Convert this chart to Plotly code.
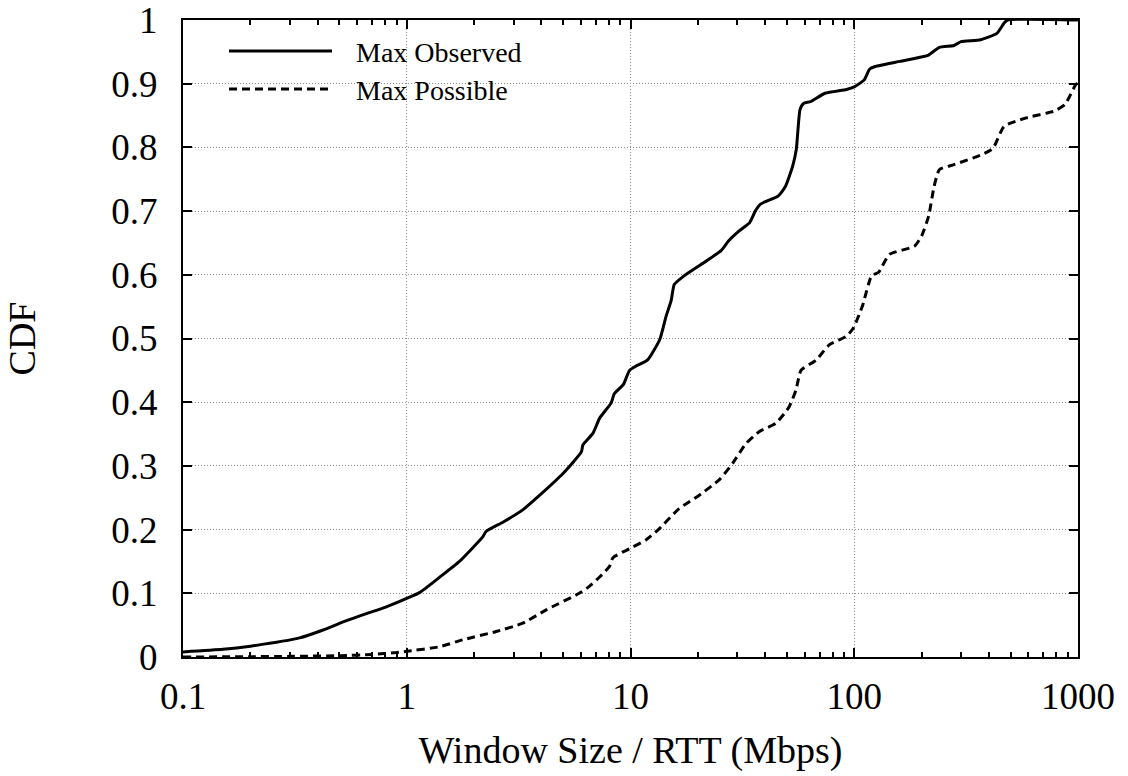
import plotly.graph_objects as go

# ---- data ----
obs_x = [0.1, 0.151, 0.2, 0.332, 0.42, 0.538, 0.66, 0.8, 1.0, 1.14, 1.4, 1.72, 2.19, 2.26, 2.7,
         3.3, 3.93, 4.99, 6.03, 6.13, 6.79, 7.28, 8.2, 8.45, 9.3, 9.9, 10.6, 11.9, 13.5, 14.4,
         15.2, 15.7, 17.3, 21.9, 25.4, 27.4, 30.6, 34.1, 36.1, 38.1, 45.8, 49.3, 53.1, 55.1,
         57.2, 59.3, 63.8, 74, 92.3, 100, 110.8, 117.2, 124, 160, 200, 215, 240, 279, 300,
         367, 434, 467, 484, 1000]
obs_y = [0.008, 0.012, 0.017, 0.030, 0.042, 0.057, 0.068, 0.078, 0.092, 0.101, 0.125, 0.150,
         0.189, 0.197, 0.212, 0.231, 0.254, 0.288, 0.322, 0.333, 0.351, 0.375, 0.399, 0.413,
         0.428, 0.450, 0.457, 0.466, 0.498, 0.534, 0.560, 0.585, 0.598, 0.622, 0.638, 0.653,
         0.669, 0.682, 0.700, 0.711, 0.724, 0.739, 0.771, 0.797, 0.859, 0.869, 0.872, 0.885,
         0.891, 0.895, 0.906, 0.923, 0.927, 0.935, 0.942, 0.945, 0.957, 0.960, 0.966, 0.969,
         0.979, 0.995, 1.0, 1.0]

pos_x = [0.1, 0.2, 0.3, 0.5, 0.7, 0.9, 1.0, 1.4, 1.78, 2.51, 3.3, 4.2, 5.9, 6.5, 7.3, 8.05,
         8.35, 9.9, 11.75, 13.5, 16.5, 20.3, 24.9, 28.6, 32.8, 37.7, 44.7, 51.2, 54.9, 57.8,
         67.5, 77.3, 91.8, 99, 109, 119.4, 128.5, 143.5, 186, 200, 215, 227.5, 240, 279, 374,
         418, 467, 582, 782, 873, 975, 1000]
pos_y = [0.0, 0.0005, 0.001, 0.002, 0.004, 0.007, 0.009, 0.016, 0.027, 0.040, 0.053, 0.074,
         0.100, 0.110, 0.126, 0.142, 0.156, 0.170, 0.184, 0.202, 0.233, 0.254, 0.278, 0.304,
         0.335, 0.354, 0.367, 0.393, 0.419, 0.450, 0.466, 0.490, 0.503, 0.516, 0.552, 0.598,
         0.604, 0.632, 0.645, 0.661, 0.692, 0.739, 0.765, 0.773, 0.789, 0.799, 0.833, 0.846,
         0.857, 0.867, 0.898, 0.902]

series_names = ["Max Observed", "Max Possible"]
x_tick_vals = [0.1, 1, 10, 100, 1000]
x_tick_text = ["0.1", "1", "10", "100", "1000"]
y_tick_vals = [0, 0.1, 0.2, 0.3, 0.4, 0.5, 0.6, 0.7, 0.8, 0.9, 1]
y_tick_text = ["0", "0.1", "0.2", "0.3", "0.4", "0.5", "0.6", "0.7", "0.8", "0.9", "1"]
x_title = "Window Size / RTT (Mbps)"
y_title = "CDF"

FONT = "Liberation Serif, Times New Roman, serif"
DASH = "8px,5px"
LW = 3

minor_vals = [m * 10 ** e for e in range(-1, 3) for m in range(2, 10)]

fig = go.Figure()
fig.add_trace(go.Scatter(x=obs_x, y=obs_y, mode="lines", name=series_names[0],
                         line=dict(color="black", width=LW, shape="spline", smoothing=0.5),
                         showlegend=False))
fig.add_trace(go.Scatter(x=pos_x, y=pos_y, mode="lines", name=series_names[1],
                         line=dict(color="black", width=LW, dash=DASH, shape="spline",
                                   smoothing=0.5),
                         showlegend=False))

W, H = 1128, 776
L, R, T, B = 183, 50, 20, 119
pw, ph = W - L - R, H - T - B


def px2x(px):
    return (px - L) / pw


def py2y(py):
    return (H - B - py) / ph


# white key box hiding the grid (as gnuplot does)
fig.add_shape(type="rect", xref="paper", yref="paper", x0=0, x1=px2x(631),
              y0=py2y(116), y1=1, fillcolor="white", line=dict(width=0), layer="between")

# manual key, gnuplot style
rows = [51, 89]
for i, (name, dash) in enumerate(zip(series_names, ["solid", DASH])):
    fig.add_shape(type="line", xref="paper", yref="paper", x0=px2x(229), x1=px2x(332),
                  y0=py2y(rows[i]), y1=py2y(rows[i]),
                  line=dict(color="black", width=LW, dash=dash), layer="above")
    fig.add_annotation(xref="paper", yref="paper", x=px2x(354), y=py2y(rows[i] + 1),
                       text=name, showarrow=False, xanchor="left", yanchor="middle",
                       font=dict(family=FONT, size=28, color="black"))

axis_common = dict(showline=True, linecolor="black", linewidth=2, mirror="ticks",
                   ticks="inside", tickcolor="black", tickwidth=1.5, ticklen=9,
                   gridcolor="#8a8a8a", gridwidth=1, griddash="1px,2px",
                   zeroline=False, ticklabeloverflow="allow",
                   tickfont=dict(family=FONT, size=37, color="black"))

fig.update_xaxes(type="log", range=[-1, 3], tickvals=x_tick_vals, ticktext=x_tick_text,
                 showgrid=True, ticklabelstandoff=6,
                 minor=dict(tickvals=minor_vals, ticks="inside", ticklen=5, tickwidth=1.5,
                            tickcolor="black", showgrid=False),
                 title=dict(text=x_title, font=dict(family=FONT, size=38, color="black"),
                            standoff=20),
                 **axis_common)
fig.update_yaxes(range=[0, 1], tickvals=y_tick_vals, ticktext=y_tick_text, showgrid=True,
                 ticklabelstandoff=16,
                 title=dict(text=y_title, font=dict(family=FONT, size=38, color="black"),
                            standoff=64),
                 **axis_common)

fig.update_layout(width=W, height=H, margin=dict(l=L, r=R, t=T, b=B, autoexpand=False),
                  paper_bgcolor="white", plot_bgcolor="white", showlegend=False)

fig.write_html("out.html")
